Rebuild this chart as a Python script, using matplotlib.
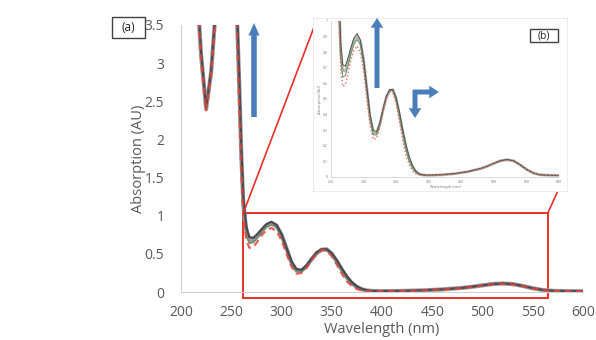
import matplotlib.pyplot as plt
from matplotlib.patches import Rectangle, FancyBboxPatch

plt.rcParams['font.family'] = ['Open Sans', 'DejaVu Sans']

# absorption spectra (AU vs nm)
wl = [215, 220, 225, 230, 235, 240, 250, 255, 258, 260, 262, 265, 268, 272, 276,
      280, 285, 290, 295, 300, 305, 310, 315, 320, 325, 330, 335, 340, 345, 350,
      355, 360, 365, 370, 375, 380, 385, 390, 395, 400, 410, 420, 440, 460, 480,
      490, 500, 510, 520, 530, 540, 550, 560, 570, 580, 590, 600]

abs_dark = [4.2, 3.15, 2.42, 2.9, 3.8, 4.5, 4.5, 4.0, 2.8, 1.9, 1.25, 0.86, 0.72, 0.71, 0.76,
            0.82, 0.89, 0.92, 0.88, 0.76, 0.58, 0.40, 0.30, 0.29, 0.35, 0.44, 0.52, 0.56, 0.56, 0.51,
            0.42, 0.31, 0.21, 0.13, 0.075, 0.04, 0.022, 0.015, 0.012, 0.012, 0.013, 0.015, 0.022, 0.035, 0.055,
            0.07, 0.088, 0.105, 0.112, 0.105, 0.08, 0.05, 0.027, 0.015, 0.012, 0.011, 0.01]

abs_grey = [4.15, 3.1, 2.40, 2.88, 3.78, 4.5, 4.5, 3.9, 2.7, 1.8, 1.15, 0.80, 0.68, 0.68, 0.73,
            0.80, 0.87, 0.90, 0.87, 0.75, 0.57, 0.38, 0.28, 0.28, 0.34, 0.43, 0.51, 0.555, 0.56, 0.50,
            0.40, 0.29, 0.19, 0.115, 0.065, 0.035, 0.02, 0.014, 0.012, 0.011, 0.012, 0.014, 0.021, 0.034, 0.054,
            0.069, 0.087, 0.104, 0.111, 0.104, 0.079, 0.049, 0.026, 0.015, 0.012, 0.011, 0.01]

abs_green = [4.12, 3.08, 2.40, 2.87, 3.77, 4.5, 4.5, 3.85, 2.6, 1.75, 1.1, 0.76, 0.64, 0.65, 0.71,
             0.78, 0.85, 0.88, 0.85, 0.73, 0.55, 0.37, 0.27, 0.27, 0.33, 0.43, 0.51, 0.555, 0.555, 0.49,
             0.39, 0.28, 0.18, 0.105, 0.058, 0.03, 0.018, 0.013, 0.011, 0.011, 0.012, 0.014, 0.021, 0.034, 0.053,
             0.068, 0.086, 0.103, 0.11, 0.103, 0.078, 0.048, 0.026, 0.014, 0.011, 0.01, 0.01]

abs_red = [4.1, 3.05, 2.38, 2.85, 3.75, 4.5, 4.5, 3.7, 2.4, 1.6, 1.0, 0.68, 0.58, 0.59, 0.66,
           0.74, 0.81, 0.84, 0.80, 0.68, 0.50, 0.33, 0.24, 0.25, 0.32, 0.42, 0.50, 0.55, 0.54, 0.47,
           0.36, 0.24, 0.14, 0.08, 0.04, 0.02, 0.012, 0.01, 0.01, 0.01, 0.011, 0.013, 0.02, 0.033, 0.052,
           0.067, 0.085, 0.10, 0.108, 0.10, 0.077, 0.047, 0.025, 0.014, 0.011, 0.01, 0.01]

W, H = 596, 340


def fx(px):
    return px / W


def fy(py):
    return 1 - py / H


fig = plt.figure(figsize=(5.96, 3.40), dpi=100)
fig.patch.set_facecolor('white')

# main plot (a)
ax = fig.add_axes([fx(181), fy(292), fx(583) - fx(181), fy(25) - fy(292)])
ax.plot(wl, abs_grey, color='#9a9a9a', lw=3.0)
ax.plot(wl, abs_green, color='#6f8f70', lw=1.2)
ax.plot(wl, abs_dark, color='#4a4a55', lw=1.6)
ax.plot(wl, abs_red, color='#e0463c', lw=1.6, dashes=(3, 2), alpha=0.85)
ax.set_xlim(200, 600)
ax.set_ylim(0, 3.5)
ax.set_xticks([200, 250, 300, 350, 400, 450, 500, 550, 600])
ax.set_yticks([0, 0.5, 1, 1.5, 2, 2.5, 3, 3.5])
ax.set_yticklabels(['0', '0.5', '1', '1.5', '2', '2.5', '3', '3.5'])
ax.tick_params(length=0, labelsize=10, labelcolor='#595959')
ax.tick_params(axis='y', pad=12)
ax.tick_params(axis='x', pad=9)
for s in ['top', 'right']:
    ax.spines[s].set_visible(False)
for s in ['left', 'bottom']:
    ax.spines[s].set_color('#d0d0d0')
ax.set_xlabel('Wavelength (nm)', fontsize=10.5, color='#595959', labelpad=2)
ax.set_ylabel('Absorption (AU)', fontsize=10.5, color='#595959', labelpad=-1)

# zoom box and connector lines
ax.add_patch(Rectangle((262, -0.08), 303, 1.115, fill=False, ec='#e8302a', lw=1.4, clip_on=False))
ax.plot([262, 332], [1.035, 3.46], color='#e8302a', lw=1.2, clip_on=False)
ax.plot([565, 580], [1.035, 1.47], color='#e8302a', lw=1.2, clip_on=False)

ax.annotate('', xy=(fx(254), fy(23)), xytext=(fx(254), fy(117)),
            xycoords='figure fraction', textcoords='figure fraction',
            arrowprops=dict(width=4, headwidth=8, headlength=9, fc='#4a7ebb', ec='none'))

# inset (b) background
bg = fig.add_axes([fx(313), fy(192), fx(568) - fx(313), fy(18) - fy(192)])
bg.set_axis_off()
bg.add_patch(FancyBboxPatch((0, 0), 1, 1, boxstyle='round,pad=0,rounding_size=0.01',
                            transform=bg.transAxes, fc='white', ec='#e6e6e6', lw=1))

axi = fig.add_axes([fx(331), fy(177), fx(559) - fx(331), fy(21) - fy(177)])
axi.plot(wl, abs_grey, color='#b5b5b5', lw=2.0)
axi.plot(wl, abs_green, color='#5f9460', lw=0.7)
axi.plot(wl, abs_dark, color='#505050', lw=0.7)
axi.plot(wl, abs_red, color='#ee6a5a', lw=1.0, ls=':')
axi.set_xlim(250, 600)
axi.set_ylim(0, 1)
axi.set_xticks([250, 300, 350, 400, 450, 500, 550, 600])
axi.set_yticks([0, 0.1, 0.2, 0.3, 0.4, 0.5, 0.6, 0.7, 0.8, 0.9, 1])
axi.set_yticklabels(['0', '0.1', '0.2', '0.3', '0.4', '0.5', '0.6', '0.7', '0.8', '0.9', '1'])
axi.tick_params(length=0, labelsize=2.5, labelcolor='#777777', pad=2)
for s in ['top', 'right']:
    axi.spines[s].set_visible(False)
for s in ['left', 'bottom']:
    axi.spines[s].set_color('#d0d0d0')
    axi.spines[s].set_linewidth(0.6)
axi.set_xlabel('Wavelength (nm)', fontsize=2.8, color='#777777', labelpad=1)
axi.set_ylabel('Absorption (AU)', fontsize=2.8, color='#777777', labelpad=1)

arrow_kw = dict(width=3.6, headwidth=9, headlength=7, fc='#4a7ebb', ec='none')
axi.annotate('', xy=(fx(377), fy(18)), xytext=(fx(377), fy(88)),
             xycoords='figure fraction', textcoords='figure fraction',
             arrowprops=arrow_kw, annotation_clip=False)
axi.annotate('', xy=(fx(439), fy(92)), xytext=(fx(413), fy(92)),
             xycoords='figure fraction', textcoords='figure fraction',
             arrowprops=arrow_kw, annotation_clip=False)
axi.annotate('', xy=(fx(415), fy(118)), xytext=(fx(415), fy(90)),
             xycoords='figure fraction', textcoords='figure fraction',
             arrowprops=arrow_kw, annotation_clip=False)

# panel labels
fig.add_artist(Rectangle((fx(112), fy(38)), fx(145) - fx(112), fy(17) - fy(38),
                         transform=fig.transFigure, fill=False, ec='#404040', lw=1))
fig.text(fx(128.5), fy(27.5), '(a)', ha='center', va='center', fontsize=8.5, color='#222222')
fig.add_artist(Rectangle((fx(530), fy(42)), fx(558) - fx(530), fy(29) - fy(42),
                         transform=fig.transFigure, fill=False, ec='#404040', lw=1, zorder=5))
fig.text(fx(544), fy(35.5), '(b)', ha='center', va='center', fontsize=7.5, color='#222222', zorder=6)

fig.savefig('out.png', dpi=100)
